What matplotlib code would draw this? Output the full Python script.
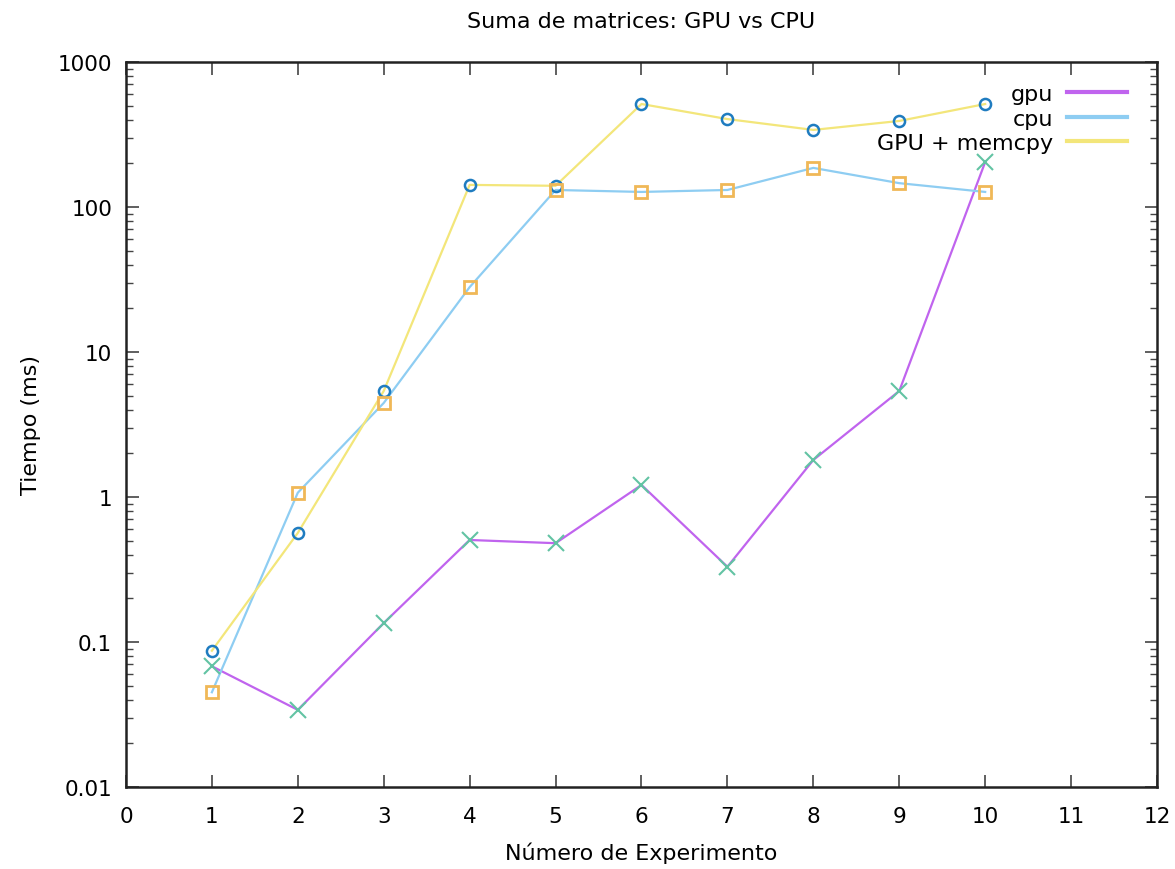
import numpy as np
import matplotlib.pyplot as plt
from matplotlib.ticker import LogLocator, FixedLocator, NullFormatter

# tiempos medidos (ms) por experimento
experimentos = [1, 2, 3, 4, 5, 6, 7, 8, 9, 10]
t_gpu = [0.068, 0.034, 0.135, 0.505, 0.48, 1.21, 0.33, 1.80, 5.38, 204]
t_cpu = [0.045, 1.07, 4.45, 28, 131, 127, 131, 186, 146, 127]
t_gpu_memcpy = [0.087, 0.565, 5.38, 142, 140, 513, 404, 340, 392, 513]

x_ticks = list(range(0, 13))
y_ticks = [0.01, 0.1, 1, 10, 100, 1000]
y_tick_labels = ["0.01", "0.1", "1", "10", "100", "1000"]

plt.rcParams['font.family'] = ['DejaVu Sans']
plt.rcParams['font.size'] = 15.5

fig = plt.figure(figsize=(11.75, 8.7), dpi=100)
ax = fig.add_axes([0.1072, 0.0943, 0.8775, 0.8333])

# lineas
ax.plot(experimentos, t_gpu, color="#c064ee", lw=1.6, label="gpu")
ax.plot(experimentos, t_cpu, color="#8ecdf2", lw=1.6, label="cpu")
ax.plot(experimentos, t_gpu_memcpy, color="#f3e67a", lw=1.6, label="GPU + memcpy")

# puntos (estilos cruzados como en el script original)
ax.plot(experimentos, t_gpu, 'x', color="#62c3a3", markersize=11, mew=1.5)
ax.plot(experimentos, t_gpu_memcpy, 'o', color="#1f7cc0", markersize=8,
        mfc="none", mew=1.8)
ax.plot(experimentos, t_cpu, 's', color="#f0b857", markersize=9,
        mfc="none", mew=2)

ax.set_yscale('log')
ax.set_xlim(0, 12)
ax.set_ylim(0.01, 1000)
ax.xaxis.set_major_locator(FixedLocator(x_ticks))
ax.yaxis.set_major_locator(FixedLocator(y_ticks))
ax.set_yticklabels(y_tick_labels)
ax.yaxis.set_minor_locator(LogLocator(base=10, subs=np.arange(2, 10)))
ax.yaxis.set_minor_formatter(NullFormatter())

ax.tick_params(which='both', direction='in', top=True, right=True)
ax.tick_params(axis='x', pad=14)
ax.tick_params(axis='y', pad=10)
ax.tick_params(which='major', length=9, width=1.2, color="#444444")
ax.tick_params(which='minor', length=5, width=1.0, color="#444444")
for s in ax.spines.values():
    s.set_linewidth(1.8)
    s.set_color("#222222")

ax.set_title("Suma de matrices: GPU vs CPU", fontsize=16, pad=25)
ax.set_xlabel("Número de Experimento", fontsize=16, labelpad=11)
ax.set_ylabel("Tiempo (ms)", fontsize=16, labelpad=12)

leg = ax.legend(loc='upper right', bbox_to_anchor=(0.99, 0.997), frameon=False,
                markerfirst=False, handlelength=2.7, handletextpad=0.6,
                labelspacing=0.2, fontsize=16)
for h in leg.get_lines():
    h.set_linewidth(3)

fig.savefig("out.png", dpi=100)
